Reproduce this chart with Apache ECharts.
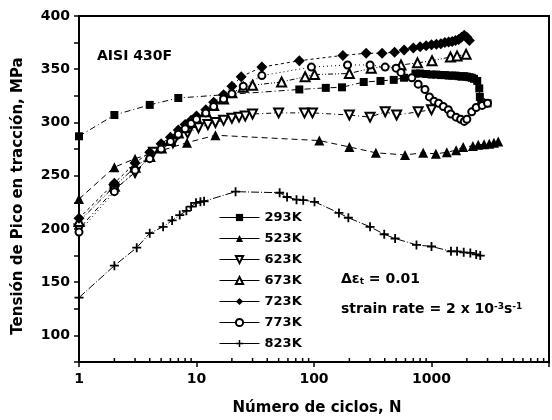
<!DOCTYPE html>
<html lang="es">
<head>
<meta charset="UTF-8">
<title>AISI 430F</title>
<script src="https://cdn.jsdelivr.net/npm/echarts@6/dist/echarts.min.js"></script>
<style>html,body{margin:0;background:#fff}</style>
</head>
<body>
<div id="main" style="width:552px;height:420px"></div>
<script>
// [ciclos N, tensión MPa]
const k293 = [[1,287],[2,307],[4,316.5],[7,323],[75,331],[126,332.5],[173,333],[265,338],[368,339],[477,340],[584,342],[730,346],[800,346],[900,345.5],[1000,345],[1100,345],[1200,344.5],[1300,344.5],[1400,344],[1500,344],[1600,344],[1700,343.5],[1800,343],[1900,343.5],[2000,343],[2100,342.5],[2200,342],[2300,341],[2450,339],[2550,332],[2580,324],[2650,319],[2800,318],[3000,318]]
const k523 = [[1,228],[2,258],[3,266],[8.3,281],[14.5,288],[111,283],[200,277],[336,271.5],[595,269.5],[850,271.5],[1090,270.5],[1350,272],[1620,274],[1860,277],[2250,278],[2500,279],[2800,279.5],[3100,280],[3400,281],[3700,282]]
const k623 = [[1,200],[2,237],[3,253],[4.3,272],[6.3,281],[8.4,290],[10.4,295],[12.5,298],[14.5,300],[17,302],[20,304],[23,305],[26,306],[30,308],[50,309],[83,309],[97,309],[200,307],[300,305],[404,310],[505,307],[770,310],[1000,312]]
const k673 = [[1,207],[2,240],[3,258],[4,268],[5,276],[6,283],[7,290],[8,295],[9,300],[10,304],[12,310],[14,316],[17,322],[20,328],[25,333],[30,335],[53,338],[84,343],[101,345],[200,346],[307,351],[550,354],[760,356],[1010,358],[1450,361.5],[1650,362.5],[1970,364]]
const k723 = [[1,210],[2,243],[3,262],[4,272],[5,280],[6,286],[7,293],[8,298],[9,302],[10,306],[12,312],[14,319],[17,326],[20,334],[24,343],[36,352],[75,358],[176,363],[278,365],[380,365],[485,366],[585,368],[700,370],[800,371],[900,372],[1000,373],[1100,373.5],[1200,374],[1300,375],[1400,375.5],[1500,376],[1600,377],[1700,378],[1800,380],[1900,382],[2000,380],[2100,377]]
const k773 = [[1,197],[2,235],[3,255],[4,266],[5,275],[6,282],[7,289],[8,294],[9,299],[10,303],[12,309],[14,315],[17,322],[20,327],[25,334],[36,344],[95,352],[193,354],[300,354],[403,352],[500,351],[550,347],[680,342],[770,336],[880,331],[960,324],[1050,320],[1150,318],[1260,315],[1390,312],[1460,308],[1620,305],[1770,303],[1900,301],[2000,303],[2200,310],[2400,314],[2700,316],[3000,318]]
const k823 = [[1,135.5],[2,165.5],[3.1,182.4],[4,196],[5.2,202],[6.2,208],[7.2,213],[8.2,217],[9,221],[9.9,224.5],[10.8,225.5],[11.6,226],[21.5,235],[51,234],[59,230],[71,227.5],[81,227],[101,225.5],[163,215],[196,210.5],[300,202],[396,195],[490,191],[745,185],[1000,183.5],[1465,179],[1650,179],[1880,178],[2140,177.5],[2400,176],[2600,175]]

const decades = [1, 10, 100, 1000]
const minorSteps = [2, 3, 4, 5, 6, 7, 8, 9]

const minorTicks = []
decades.forEach(d => minorSteps.forEach(m => minorTicks.push([d * m, 75])))

const font = 'DejaVu Sans'
const plus = 'path://M4,0h2v4h4v2h-4v4h-2v-4h-4v-2h4z'

const lines = [
    {name: '293K', data: k293, symbol: 'rect', size: 8, dash: [6, 3, 1, 3]},
    {name: '523K', data: k523, symbol: 'triangle', size: 10, dash: [6, 4]},
    {name: '623K', data: k623, symbol: 'emptyTriangle', rotate: 180, size: 9, dash: [5, 3, 1, 3]},
    {name: '673K', data: k673, symbol: 'emptyTriangle', size: 9, dash: [5, 2, 1, 2, 1, 2]},
    {name: '723K', data: k723, symbol: 'diamond', size: 11, dash: [3, 3]},
    {name: '773K', data: k773, symbol: 'emptyCircle', size: 7, dash: [1, 3]},
    {name: '823K', data: k823, symbol: plus, size: 9, dash: [8, 2, 1, 2]}
]

const chart = echarts.init(document.getElementById('main'))

const series = lines.map(s => ({
    name: s.name,
    type: 'line',
    data: s.data,
    symbol: s.symbol,
    symbolSize: s.size,
    symbolRotate: s.rotate || 0,
    showAllSymbol: true,
    lineStyle: {color: '#000', width: 1, type: s.dash},
    itemStyle: {color: '#000', borderWidth: s.symbol.indexOf('empty') === 0 ? 1.5 : 0},
    emphasis: {disabled: true}
}))

// ticks menores del eje log (2..9 por década)
series.push({
    type: 'custom',
    silent: true,
    data: minorTicks,
    encode: {x: 0, y: 1},
    renderItem: function (params, api) {
        const p = api.coord([api.value(0), api.value(1)])
        return {
            type: 'line',
            shape: {x1: p[0], y1: p[1], x2: p[0], y2: p[1] - 4},
            style: {stroke: '#000', lineWidth: 1.5}
        }
    }
})

const option = {
    animation: false,
    backgroundColor: '#fff',
    grid: {left: 79, top: 16, right: -26, bottom: 58, show: true, borderColor: '#000', borderWidth: 2},
    xAxis: {
        type: 'log',
        logBase: 10,
        min: 1,
        max: 10000,
        axisLine: {lineStyle: {color: '#000', width: 2}},
        axisTick: {length: 5, lineStyle: {color: '#000', width: 1.5}},
        axisLabel: {
            color: '#000', fontFamily: font, fontWeight: 'bold', fontSize: 14, margin: 10,
            formatter: v => v >= 10000 ? '' : v
        },
        splitLine: {show: false}
    },
    yAxis: {
        type: 'value',
        min: 75,
        max: 400,
        interval: 25,
        axisLine: {lineStyle: {color: '#000', width: 2}},
        axisTick: {length: 5, lineStyle: {color: '#000', width: 1.5}},
        axisLabel: {
            color: '#000', fontFamily: font, fontWeight: 'bold', fontSize: 14, margin: 9,
            formatter: v => v % 50 === 0 ? v : ''
        },
        splitLine: {show: false}
    },
    legend: {
        orient: 'vertical',
        left: 214,
        top: 206,
        itemWidth: 40,
        itemHeight: 9,
        itemGap: 8,
        data: lines.map(s => s.name),
        lineStyle: {type: 'solid', width: 1},
        textStyle: {color: '#000', fontFamily: font, fontWeight: 'bold', fontSize: 13}
    },
    graphic: [
        {
            type: 'text', left: 97, top: 49,
            style: {text: 'AISI 430F', fill: '#000', font: 'bold 14px ' + font}
        },
        {
            type: 'text', left: 341, top: 272,
            style: {
                text: 'Δε{sub|t} = 0.01',
                fill: '#000', fontFamily: font, fontWeight: 'bold', fontSize: 14,
                rich: {sub: {fontSize: 9, fontFamily: font, fontWeight: 'bold', verticalAlign: 'bottom', lineHeight: 9}}
            }
        },
        {
            type: 'text', left: 341, top: 302,
            style: {
                text: 'strain rate = 2 x 10{sup|-3}s{sup|-1}',
                fill: '#000', fontFamily: font, fontWeight: 'bold', fontSize: 14,
                rich: {sup: {fontSize: 9, fontFamily: font, fontWeight: 'bold', verticalAlign: 'top', lineHeight: 9}}
            }
        },
        {
            type: 'text', x: 18, y: 196, rotation: Math.PI / 2,
            style: {
                text: 'Tensión de Pico en tracción, MPa', fill: '#000',
                font: 'bold 15px ' + font, align: 'center', verticalAlign: 'middle'
            }
        },
        {
            type: 'text', x: 317, y: 408,
            style: {
                text: 'Número de ciclos, N', fill: '#000',
                font: 'bold 15px ' + font, align: 'center', verticalAlign: 'middle'
            }
        }
    ],
    series: series
}

chart.setOption(option)
</script>
</body>
</html>
